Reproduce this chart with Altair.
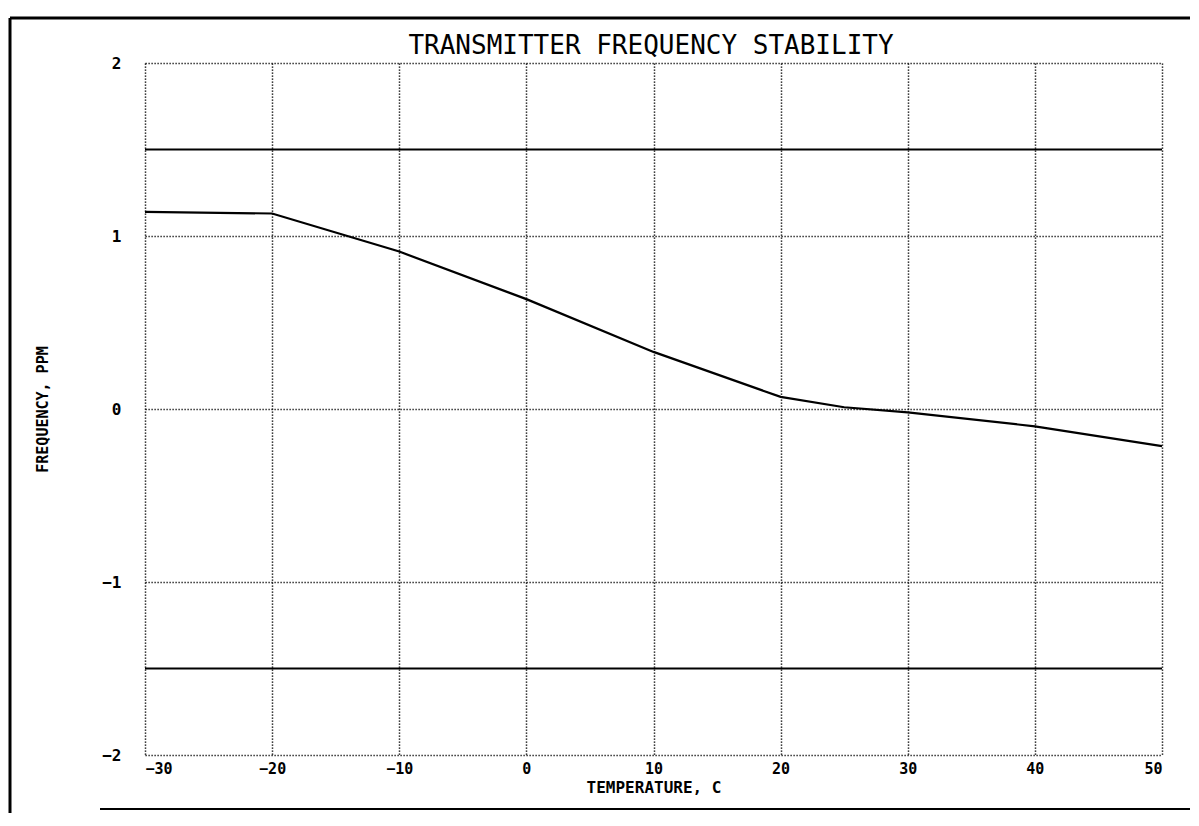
import altair as alt
import pandas as pd

# Measured curve: transmitter frequency deviation vs temperature
temps = [-30, -20, -10, 0, 10, 20, 25, 30, 40, 50]
freq_ppm = [1.14, 1.13, 0.91, 0.635, 0.33, 0.07, 0.01, -0.02, -0.10, -0.215]

# Specification limits
limit_temps = [-30, 50]
upper_limit = [1.5, 1.5]
lower_limit = [-1.5, -1.5]

x_ticks = [-30, -20, -10, 0, 10, 20, 30, 40, 50]
y_ticks = [-2, -1, 0, 1, 2]

title_text = ["TRANSMITTER FREQUENCY STABILITY"]

curve = pd.DataFrame({"t": temps, "f": freq_ppm})
limits = pd.DataFrame({
    "t": limit_temps * 2,
    "f": upper_limit + lower_limit,
    "which": ["upper"] * 2 + ["lower"] * 2,
})

FONT = "DejaVu Sans Mono"

xscale = alt.Scale(domain=[-30, 50], nice=False, zero=False)
yscale = alt.Scale(domain=[-2, 2], nice=False, zero=False)

xaxis = alt.Axis(
    values=x_ticks, format="d", title="TEMPERATURE,   C", grid=True, domain=False, ticks=False,
    gridColor="black", gridDash=[1.2, 1.8], gridWidth=1.5, gridOpacity=1,
    labelFont=FONT, labelFontSize=15, labelFontWeight="bold", labelColor="black",
    labelPadding=6, titleFont=FONT, titleFontSize=16, titleFontWeight="bold",
    titleColor="black", titlePadding=3,
)
yaxis = alt.Axis(
    values=y_ticks, format="d", title="FREQUENCY,  PPM", grid=True, domain=False, ticks=False,
    gridColor="black", gridDash=[1.2, 1.8], gridWidth=1.5, gridOpacity=1,
    labelFont=FONT, labelFontSize=16, labelFontWeight="bold", labelColor="black",
    labelPadding=24, titleFont=FONT, titleFontSize=15, titleFontWeight="bold",
    titleColor="black", titleX=-95,
)

line = alt.Chart(curve).mark_line(color="black", strokeWidth=2.2).encode(
    x=alt.X("t:Q", scale=xscale, axis=xaxis),
    y=alt.Y("f:Q", scale=yscale, axis=yaxis),
)

lim = alt.Chart(limits).mark_line(color="black", strokeWidth=2.2).encode(
    x=alt.X("t:Q", scale=xscale),
    y=alt.Y("f:Q", scale=yscale),
    detail="which:N",
)

title = alt.Chart(pd.DataFrame({"txt": title_text})).mark_text(
    font=FONT, fontSize=26, color="black", align="center", baseline="alphabetic"
).encode(text="txt:N", x=alt.value(506), y=alt.value(-9))

# page border of the scanned sheet
frame_df = pd.DataFrame({"k": [0]})
left_border = alt.Chart(frame_df).mark_rule(color="black", strokeWidth=3).encode(
    x=alt.value(-135), y=alt.value(-45), y2=alt.value(750)
)
top_border = alt.Chart(frame_df).mark_rule(color="black", strokeWidth=3).encode(
    x=alt.value(-135), x2=alt.value(1050), y=alt.value(-45)
)
bottom_border = alt.Chart(frame_df).mark_rule(color="black", strokeWidth=2).encode(
    x=alt.value(-45), x2=alt.value(1050), y=alt.value(746)
)

chart = alt.layer(lim, line, title, left_border, top_border, bottom_border).properties(
    width=1017,
    height=692,
    autosize=alt.AutoSizeParams(type="none"),
    padding={"left": 137, "top": 55, "right": 28, "bottom": 58},
    background="white",
).configure_view(stroke=None)

chart.save("out.html", embed_options={"renderer": "svg", "actions": False})
